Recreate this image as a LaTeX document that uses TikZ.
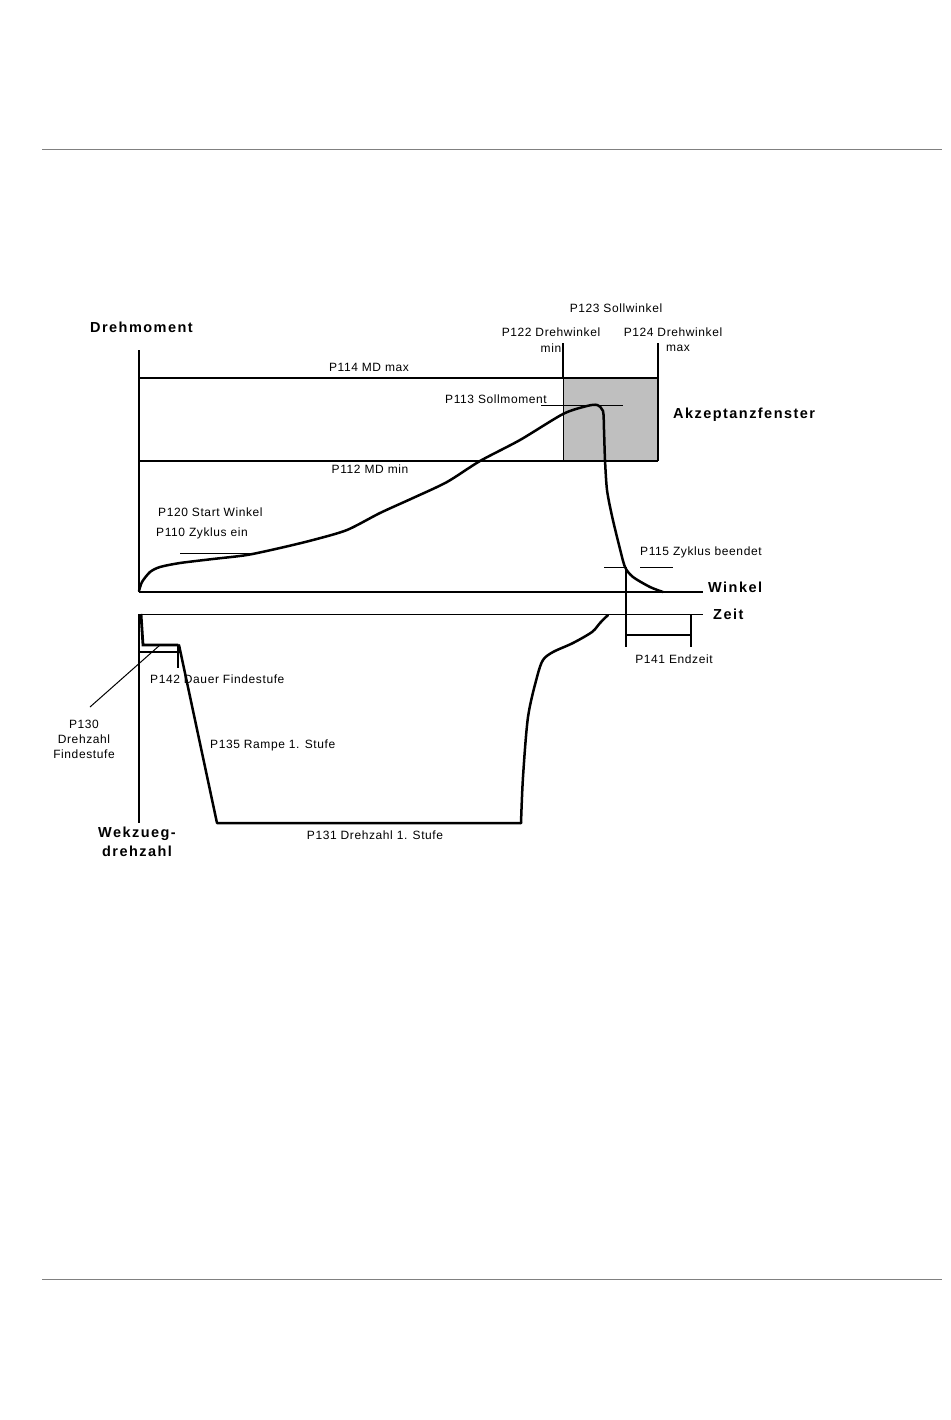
\documentclass[tikz,border=0pt]{standalone}
\usepackage{fontspec}
\setmainfont{Liberation Sans}
\newfontfamily\labfont[LetterSpace=5]{Liberation Sans}
\newfontfamily\blabfont[LetterSpace=10]{Liberation Sans}
\begin{document}
\begin{tikzpicture}[x=1pt,y=-1pt,
  lab/.style={font=\labfont\fontsize{12}{14}\selectfont, inner sep=0pt, text=black},
  blab/.style={font=\blabfont\bfseries\fontsize{14.5}{18}\selectfont, inner sep=0pt, text=black},
  thickln/.style={line width=2.8pt, black},
  thinln/.style={line width=1pt, black},
  curveln/.style={line width=2.5pt, black, line join=round, line cap=round},
  rule/.style={line width=0.8pt, gray}]
\useasboundingbox (0,0) rectangle (950,1420);
\fill[white] (0,0) rectangle (950,1420);
% page rules
\draw[rule] (42,149) -- (942,149);
\draw[rule] (42,1279) -- (942,1279);
% acceptance window
\fill[gray!50] (563,378) rectangle (658,461);
\draw[thinln] (563,378) -- (563,461);
% torque chart
\draw[thickln] (139,350) -- (139,592);
\draw[thickln] (139,592) -- (703,592);
\draw[thickln] (139,378) -- (658,378);
\draw[thickln] (139,461) -- (658,461);
\draw[thickln] (563,343) -- (563,378);
\draw[thickln] (658,343) -- (658,461);
\draw[thinln] (541,405) -- (623,405);
\draw[thinln] (180,553) -- (250,553);
\draw[thinln] (604,567) -- (627,567);
\draw[thinln] (640,567) -- (673,567);
\draw[curveln] plot[smooth, tension=0.45] coordinates {(139,591) (142,582) (150,572) (160,567) (180,563) (213,559) (247,555) (280,548) (313,540) (347,530) (380,513) (413,498) (447,482) (480,461) (520,440) (563,414) (587,406) (597,405) (603,411) (604,430) (605,460) (607,490) (612,516) (619,545) (625,567) (633,577) (650,587) (663,592)};
% time axis
\draw[thinln] (139,614) -- (703,614);
\draw[thickln] (626,567) -- (626,647);
\draw[thickln] (691,614) -- (691,647);
\draw[thickln] (626,635) -- (691,635);
% speed chart
\draw[thickln] (139,614) -- (139,823);
\draw[thickln, line join=miter] (141,614) -- (143,645) -- (178,645);
\draw[line width=2pt] (139,652) -- (180,652);
\draw[line width=2pt] (178,645) -- (178,668);
\draw[curveln] (179,645) -- (217,823) -- (521,823);
\draw[curveln] plot[smooth, tension=0.5] coordinates {(521,823) (523,777) (528,717) (537,677) (543,660) (553,652) (573,643) (592,632) (600,623) (608,615)};
\draw[thinln] (160,645) -- (90,707);
% labels
\node[blab, anchor=west] (drehmoment) at (90,327) {Drehmoment};
\node[lab] (p114) at (369,367) {P114 MD max};
\node[lab] (p112) at (370,469) {P112 MD min};
\node[lab, anchor=west] (p113) at (445,399) {P113 Sollmoment};
\node[lab, anchor=west] (p120) at (158,512) {P120 Start Winkel};
\node[lab, anchor=west] (p110) at (156,533) {P110 Zyklus ein};
\node[lab] (p123) at (616,308) {P123 Sollwinkel};
\node[lab] (p122) at (551,332) {P122 Drehwinkel};
\node[lab] (p122b) at (551,348) {min};
\node[lab] (p124) at (673,332) {P124 Drehwinkel};
\node[lab] (p124b) at (678,348) {max};
\node[blab, anchor=west] (akz) at (673,415) {Akzeptanzfenster};
\node[lab, anchor=west] (p115) at (640,552) {P115 Zyklus beendet};
\node[blab, anchor=west] (winkel) at (708,587) {Winkel};
\node[blab, anchor=west] (zeit) at (713,614) {Zeit};
\node[lab] (p141) at (674,659) {P141 Endzeit};
\node[lab, anchor=west] (p142) at (150,679) {P142 Dauer Findestufe};
\node[lab, anchor=west] (p135) at (210,745) {P135 Rampe 1. Stufe};
\node[lab] (p131) at (375,835) {P131 Drehzahl 1. Stufe};
\node[lab, align=center] (p130) at (84,739) {P130\\[1pt]Drehzahl\\[1pt]Findestufe};
\node[blab, align=center] (wz) at (137,842) {Wekzueg-\\[1pt]drehzahl};
\end{tikzpicture}
\end{document}
